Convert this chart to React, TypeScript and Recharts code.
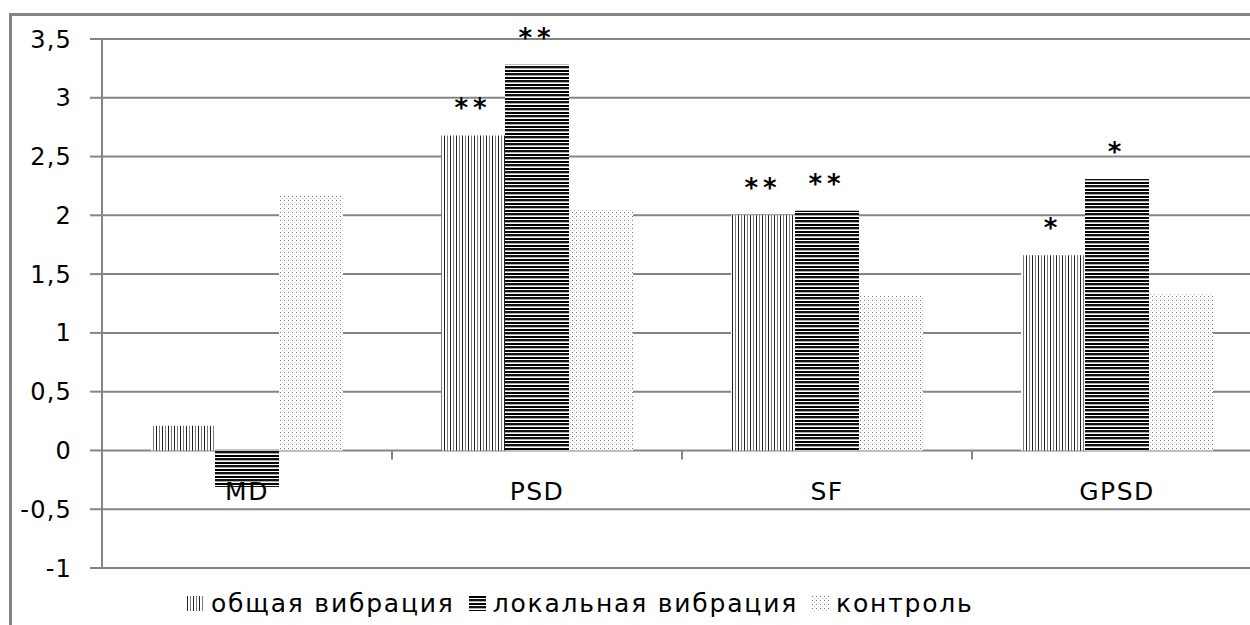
import { BarChart, Bar, XAxis, YAxis, CartesianGrid, LabelList } from "recharts";

const categories = ["MD", "PSD", "SF", "GPSD"];
const generalVibration = [0.21, 2.68, 2.0, 1.66];
const localVibration = [-0.31, 3.28, 2.04, 2.31];
const control = [2.17, 2.05, 1.32, 1.34];
const generalMarks = ["", "**", "**", "*"];
const localMarks = ["", "**", "**", "*"];
const yTicks = [-1, -0.5, 0, 0.5, 1, 1.5, 2, 2.5, 3, 3.5];
const seriesNames = ["общая вибрация", "локальная вибрация", "контроль"];

const data = categories.map((name, i) => ({
  name,
  general: generalVibration[i],
  local: localVibration[i],
  control: control[i],
  generalMark: generalMarks[i],
  localMark: localMarks[i],
}));

const FONT = "'DejaVu Sans', Verdana, sans-serif";
const GRID = "#858585";
const TOP = 39;
const PLOT_H = 529;
const PLOT_W = 1160;
const Y_MIN = yTicks[0];
const Y_MAX = yTicks[yTicks.length - 1];
const zeroY = TOP + (PLOT_H * Y_MAX) / (Y_MAX - Y_MIN);
const band = PLOT_W / categories.length;

const patterns = ["url(#vert)", "url(#horiz)", "url(#dots)"];

function CategoryTick(props: any) {
  const { x, payload, index } = props;
  return (
    <g>
      <text
        x={x}
        y={zeroY + 50}
        textAnchor="middle"
        fontSize={25}
        letterSpacing={1.5}
        fontFamily={FONT}
        fill="#000"
      >
        {payload.value}
      </text>
      {index < categories.length - 1 && (
        <line x1={x + band / 2} x2={x + band / 2} y1={zeroY} y2={zeroY + 9} stroke={GRID} strokeWidth={2} />
      )}
    </g>
  );
}

function Patterns() {
  return (
    <svg width={0} height={0} style={{ position: "absolute" }}>
      <defs>
        <pattern id="vert" patternUnits="userSpaceOnUse" width={6} height={10}>
          <rect width={6} height={10} fill="#fff" />
          <rect x={0} width={1} height={10} fill="#222" />
          <rect x={3} width={1} height={10} fill="#7a7a7a" />
        </pattern>
        <pattern id="horiz" patternUnits="userSpaceOnUse" width={10} height={7}>
          <rect width={10} height={7} fill="#fff" />
          <rect y={0} width={10} height={2} fill="#000" />
          <rect y={3} width={10} height={2} fill="#111" />
          <rect y={5} width={10} height={1} fill="#aaa" />
        </pattern>
        <pattern id="dots" patternUnits="userSpaceOnUse" width={4} height={4}>
          <rect width={4} height={4} fill="#fff" />
          <rect x={0} y={0} width={1} height={1} fill="#777" />
          <rect x={2} y={2} width={1} height={1} fill="#c4c4c4" />
        </pattern>
      </defs>
    </svg>
  );
}

export default function App() {
  return (
    <div
      style={{
        position: "fixed",
        left: 0,
        top: 0,
        width: 1250,
        height: 625,
        overflow: "hidden",
        background: "#fff",
      }}
    >
      <Patterns />
      <div
        style={{
          position: "absolute",
          left: 9,
          top: 13,
          width: 1400,
          height: 800,
          borderLeft: `3px solid ${GRID}`,
          borderTop: `3px solid ${GRID}`,
        }}
      />
      <div style={{ position: "absolute", left: 0, top: 0 }}>
        <BarChart
          width={1282}
          height={625}
          data={data}
          margin={{ top: TOP, right: 20, left: 12, bottom: 27 }}
          barCategoryGap="16.9%"
          barGap={0}
        >
          <CartesianGrid vertical={false} stroke={GRID} strokeWidth={2} />
          <XAxis
            dataKey="name"
            height={30}
            axisLine={false}
            tickLine={false}
            tick={<CategoryTick />}
            interval={0}
          />
          <YAxis
            width={90}
            domain={[Y_MIN, Y_MAX]}
            ticks={yTicks}
            interval={0}
            allowDataOverflow
            axisLine={{ stroke: GRID, strokeWidth: 2 }}
            tickLine={{ stroke: GRID, strokeWidth: 2 }}
            tickSize={12}
            tickMargin={18}
            tickFormatter={(v: number) => String(v).replace(".", ",")}
            tick={{ fill: "#000", fontSize: 24, fontFamily: FONT, letterSpacing: 1.2 }}
          />
          <Bar dataKey="general" name={seriesNames[0]} fill={patterns[0]} isAnimationActive={false}>
            <LabelList
              dataKey="generalMark"
              position="top"
              offset={18}
              style={{ fontSize: 26, fontFamily: FONT, fontWeight: "bold", fill: "#000", letterSpacing: 5 }}
            />
          </Bar>
          <Bar dataKey="local" name={seriesNames[1]} fill={patterns[1]} isAnimationActive={false}>
            <LabelList
              dataKey="localMark"
              position="top"
              offset={18}
              style={{ fontSize: 26, fontFamily: FONT, fontWeight: "bold", fill: "#000", letterSpacing: 5 }}
            />
          </Bar>
          <Bar dataKey="control" name={seriesNames[2]} fill={patterns[2]} isAnimationActive={false} />
        </BarChart>
      </div>
      <div
        style={{
          position: "absolute",
          left: 187,
          top: 589,
          display: "flex",
          alignItems: "center",
          fontFamily: FONT,
          fontSize: 25,
          letterSpacing: 1.8,
          color: "#000",
          whiteSpace: "nowrap",
        }}
      >
        {seriesNames.map((name, i) => (
          <div key={name} style={{ display: "flex", alignItems: "center", marginRight: 14 }}>
            <svg width={17} height={15} style={{ marginRight: 7 }}>
              <rect width={17} height={15} fill={patterns[i]} />
            </svg>
            <span>{name}</span>
          </div>
        ))}
      </div>
    </div>
  );
}
